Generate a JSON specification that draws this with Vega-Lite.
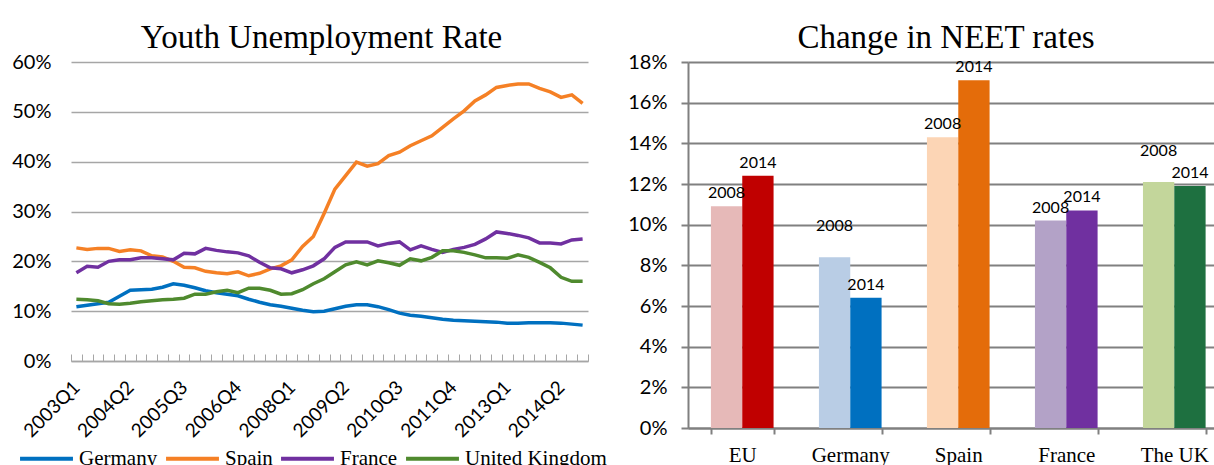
{
  "$schema": "https://vega.github.io/schema/vega-lite/v6.json",
  "padding": {"left": 11, "top": 22, "right": 0, "bottom": 0},
  "background": "white",
  "bounds": "flush",
  "spacing": 100,
  "config": {"view": {"stroke": null}, "font": "Lato"},
  "datasets": {
    "yu": [
      {"q": "2003Q1", "Germany": 10.9, "Spain": 22.7, "France": 17.7, "United Kingdom": 12.4},
      {"q": "2003Q2", "Germany": 11.2, "Spain": 22.4, "France": 19.0, "United Kingdom": 12.3},
      {"q": "2003Q3", "Germany": 11.5, "Spain": 22.6, "France": 18.8, "United Kingdom": 12.1},
      {"q": "2003Q4", "Germany": 11.8, "Spain": 22.6, "France": 20.0, "United Kingdom": 11.5},
      {"q": "2004Q1", "Germany": 13.0, "Spain": 22.0, "France": 20.3, "United Kingdom": 11.4},
      {"q": "2004Q2", "Germany": 14.2, "Spain": 22.3, "France": 20.3, "United Kingdom": 11.6},
      {"q": "2004Q3", "Germany": 14.3, "Spain": 22.1, "France": 20.7, "United Kingdom": 11.9},
      {"q": "2004Q4", "Germany": 14.4, "Spain": 21.1, "France": 20.7, "United Kingdom": 12.1},
      {"q": "2005Q1", "Germany": 14.8, "Spain": 20.9, "France": 20.5, "United Kingdom": 12.3},
      {"q": "2005Q2", "Germany": 15.5, "Spain": 20.0, "France": 20.3, "United Kingdom": 12.4},
      {"q": "2005Q3", "Germany": 15.2, "Spain": 18.8, "France": 21.6, "United Kingdom": 12.6},
      {"q": "2005Q4", "Germany": 14.7, "Spain": 18.7, "France": 21.5, "United Kingdom": 13.4},
      {"q": "2006Q1", "Germany": 14.1, "Spain": 18.0, "France": 22.6, "United Kingdom": 13.4},
      {"q": "2006Q2", "Germany": 13.7, "Spain": 17.7, "France": 22.2, "United Kingdom": 13.9},
      {"q": "2006Q3", "Germany": 13.4, "Spain": 17.5, "France": 21.9, "United Kingdom": 14.2},
      {"q": "2006Q4", "Germany": 13.1, "Spain": 17.9, "France": 21.7, "United Kingdom": 13.7},
      {"q": "2007Q1", "Germany": 12.4, "Spain": 17.1, "France": 21.1, "United Kingdom": 14.6},
      {"q": "2007Q2", "Germany": 11.8, "Spain": 17.6, "France": 19.8, "United Kingdom": 14.6},
      {"q": "2007Q3", "Germany": 11.3, "Spain": 18.5, "France": 18.7, "United Kingdom": 14.2},
      {"q": "2007Q4", "Germany": 11.0, "Spain": 19.1, "France": 18.5, "United Kingdom": 13.4},
      {"q": "2008Q1", "Germany": 10.6, "Spain": 20.3, "France": 17.7, "United Kingdom": 13.5},
      {"q": "2008Q2", "Germany": 10.2, "Spain": 23.0, "France": 18.3, "United Kingdom": 14.3},
      {"q": "2008Q3", "Germany": 9.9, "Spain": 25.0, "France": 19.1, "United Kingdom": 15.5},
      {"q": "2008Q4", "Germany": 10.0, "Spain": 29.6, "France": 20.5, "United Kingdom": 16.5},
      {"q": "2009Q1", "Germany": 10.5, "Spain": 34.5, "France": 22.8, "United Kingdom": 17.9},
      {"q": "2009Q2", "Germany": 11.0, "Spain": 37.2, "France": 23.9, "United Kingdom": 19.3},
      {"q": "2009Q3", "Germany": 11.3, "Spain": 39.9, "France": 23.9, "United Kingdom": 19.9},
      {"q": "2009Q4", "Germany": 11.3, "Spain": 39.1, "France": 23.9, "United Kingdom": 19.3},
      {"q": "2010Q1", "Germany": 10.9, "Spain": 39.6, "France": 23.1, "United Kingdom": 20.1},
      {"q": "2010Q2", "Germany": 10.3, "Spain": 41.2, "France": 23.6, "United Kingdom": 19.7},
      {"q": "2010Q3", "Germany": 9.6, "Spain": 41.9, "France": 23.9, "United Kingdom": 19.2},
      {"q": "2010Q4", "Germany": 9.2, "Spain": 43.2, "France": 22.3, "United Kingdom": 20.5},
      {"q": "2011Q1", "Germany": 9.0, "Spain": 44.2, "France": 23.1, "United Kingdom": 20.1},
      {"q": "2011Q2", "Germany": 8.7, "Spain": 45.2, "France": 22.4, "United Kingdom": 20.8},
      {"q": "2011Q3", "Germany": 8.4, "Spain": 46.9, "France": 21.8, "United Kingdom": 22.1},
      {"q": "2011Q4", "Germany": 8.2, "Spain": 48.6, "France": 22.4, "United Kingdom": 22.1},
      {"q": "2012Q1", "Germany": 8.1, "Spain": 50.2, "France": 22.8, "United Kingdom": 21.8},
      {"q": "2012Q2", "Germany": 8.0, "Spain": 52.2, "France": 23.4, "United Kingdom": 21.3},
      {"q": "2012Q3", "Germany": 7.9, "Spain": 53.4, "France": 24.5, "United Kingdom": 20.7},
      {"q": "2012Q4", "Germany": 7.8, "Spain": 54.9, "France": 25.9, "United Kingdom": 20.7},
      {"q": "2013Q1", "Germany": 7.6, "Spain": 55.3, "France": 25.6, "United Kingdom": 20.6},
      {"q": "2013Q2", "Germany": 7.6, "Spain": 55.6, "France": 25.2, "United Kingdom": 21.3},
      {"q": "2013Q3", "Germany": 7.7, "Spain": 55.6, "France": 24.7, "United Kingdom": 20.8},
      {"q": "2013Q4", "Germany": 7.7, "Spain": 54.7, "France": 23.7, "United Kingdom": 19.8},
      {"q": "2014Q1", "Germany": 7.7, "Spain": 54.0, "France": 23.7, "United Kingdom": 18.7},
      {"q": "2014Q2", "Germany": 7.6, "Spain": 52.9, "France": 23.5, "United Kingdom": 16.8},
      {"q": "2014Q3", "Germany": 7.4, "Spain": 53.4, "France": 24.3, "United Kingdom": 16.0},
      {"q": "2014Q4", "Germany": 7.2, "Spain": 51.7, "France": 24.5, "United Kingdom": 16.0}
    ],
    "neet": [
      {"country": "EU", "year": "2008", "rate": 10.9},
      {"country": "EU", "year": "2014", "rate": 12.4},
      {"country": "Germany", "year": "2008", "rate": 8.4},
      {"country": "Germany", "year": "2014", "rate": 6.4},
      {"country": "Spain", "year": "2008", "rate": 14.3},
      {"country": "Spain", "year": "2014", "rate": 17.1},
      {"country": "France", "year": "2008", "rate": 10.2},
      {"country": "France", "year": "2014", "rate": 10.7},
      {"country": "The UK", "year": "2008", "rate": 12.1},
      {"country": "The UK", "year": "2014", "rate": 11.9}
    ]
  },
  "hconcat": [
    {
      "width": 517,
      "height": 299,
      "title": {"text": "Youth Unemployment Rate", "font": "Liberation Serif", "fontSize": 33, "fontWeight": "normal", "color": "black", "offset": -3, "dx": -8},
      "data": {"name": "yu"},
      "transform": [{"fold": ["Germany", "Spain", "France", "United Kingdom"], "as": ["country", "rate"]}],
      "mark": {"type": "line", "strokeWidth": 3.5},
      "encoding": {
        "x": {
          "field": "q", "type": "ordinal", "sort": null,
          "scale": {"type": "band", "paddingInner": 0, "paddingOuter": 0},
          "axis": {
            "title": null, "tickBand": "extent", "labelAngle": -45, "labelBaseline": "middle",
            "labelFont": "Lato", "labelFontSize": 19, "labelColor": "black",
            "labelExpr": "indexof(['2003Q1','2004Q2','2005Q3','2006Q4','2008Q1','2009Q2','2010Q3','2011Q4','2013Q1','2014Q2'], datum.value) >= 0 ? datum.value : ''",
            "labelOverlap": false, "labelPadding": 30,
            "tickSize": -7, "tickColor": "#A6A6A6", "tickWidth": 1,
            "domainColor": "#A6A6A6", "domainWidth": 1.5, "grid": false
          }
        },
        "y": {
          "field": "rate", "type": "quantitative",
          "scale": {"domain": [0, 60]},
          "axis": {
            "title": null, "values": [0, 10, 20, 30, 40, 50, 60],
            "labelExpr": "datum.value + '%'",
            "labelFont": "Lato", "labelFontSize": 20, "labelColor": "black", "labelPadding": 20,
            "ticks": false, "domain": false,
            "grid": true, "gridColor": "#A6A6A6", "gridWidth": 1.5
          }
        },
        "color": {
          "field": "country", "type": "nominal",
          "scale": {"domain": ["Germany", "Spain", "France", "United Kingdom"], "range": ["#0070C0", "#F58025", "#7030A0", "#4F8A2E"]},
          "legend": {
            "title": null, "orient": "none", "legendX": -53, "legendY": 368,
            "direction": "horizontal", "columns": 4,
            "symbolType": "stroke", "symbolSize": 2800, "symbolStrokeWidth": 4,
            "labelFont": "Liberation Serif", "labelFontSize": 21, "labelColor": "black",
            "labelOffset": 4, "columnPadding": 0, "labelLimit": 300, "padding": 0
          }
        }
      }
    },
    {
      "width": 526,
      "height": 366,
      "title": {"text": "Change in NEET rates", "font": "Liberation Serif", "fontSize": 33, "fontWeight": "normal", "color": "black", "offset": -3, "dx": -5},
      "data": {"name": "neet"},
      "transform": [
        {"calculate": "datum.country + ' ' + datum.year", "as": "key"},
        {"joinaggregate": [{"op": "max", "field": "rate", "as": "top"}], "groupby": ["country"]},
        {"calculate": "datum.year == '2008' && datum.rate >= datum.top ? datum.rate + 0.9 : datum.rate", "as": "labelY"}
      ],
      "encoding": {
        "x": {
          "field": "country", "type": "nominal", "sort": null,
          "scale": {"paddingInner": 0.42, "paddingOuter": 0.145, "align": 0.732},
          "axis": {
            "title": null, "labelAngle": 0, "tickBand": "extent",
            "labelFont": "Liberation Serif", "labelFontSize": 21, "labelColor": "black", "labelPadding": 10,
            "tickSize": 6, "tickColor": "#808080", "tickWidth": 2,
            "domainColor": "#808080", "domainWidth": 2
          }
        },
        "xOffset": {"field": "year", "type": "nominal"}
      },
      "layer": [
        {
          "mark": {"type": "bar"},
          "encoding": {
            "y": {
              "field": "rate", "type": "quantitative",
              "scale": {"domain": [0, 18]},
              "axis": {
                "title": null, "values": [0, 2, 4, 6, 8, 10, 12, 14, 16, 18],
                "labelExpr": "datum.value + '%'",
                "labelFont": "Lato", "labelFontSize": 20, "labelColor": "black", "labelPadding": 14,
                "tickSize": 7, "tickColor": "#808080", "tickWidth": 2,
                "domainColor": "#808080", "domainWidth": 2,
                "grid": true, "gridColor": "#808080", "gridWidth": 2
              }
            },
            "color": {
              "field": "key", "type": "nominal",
              "scale": {
                "domain": ["EU 2008", "EU 2014", "Germany 2008", "Germany 2014", "Spain 2008", "Spain 2014", "France 2008", "France 2014", "The UK 2008", "The UK 2014"],
                "range": ["#E6B9B8", "#C00000", "#B9CDE5", "#0070C0", "#FCD5B5", "#E46C0A", "#B3A2C7", "#7030A0", "#C3D69B", "#1E7040"]
              },
              "legend": null
            }
          }
        },
        {
          "mark": {"type": "text", "baseline": "bottom", "dy": -5, "font": "Lato", "fontSize": 16, "color": "black"},
          "encoding": {
            "y": {"field": "labelY", "type": "quantitative"},
            "text": {"field": "year"}
          }
        }
      ]
    }
  ],
  "resolve": {"scale": {"color": "independent"}, "legend": {"color": "independent"}}
}
